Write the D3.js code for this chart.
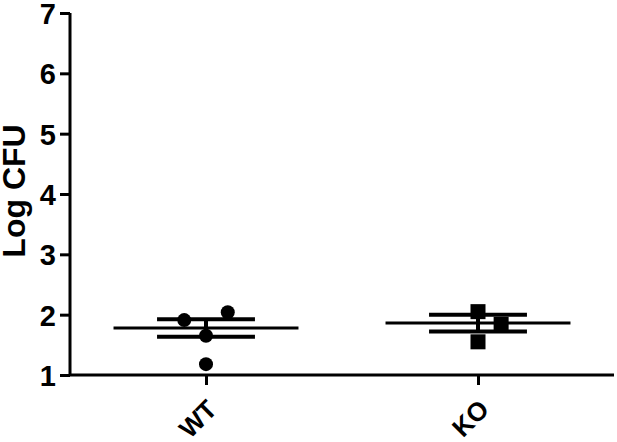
<!DOCTYPE html>
<html>
<head>
<meta charset="utf-8">
<script src="https://cdn.jsdelivr.net/npm/d3@7"></script>
<style>
  body { margin: 0; background: #fff; }
  svg text { font-family: "Liberation Sans", Arial, sans-serif; font-weight: bold; fill: #000; }
</style>
</head>
<body>
<svg width="617" height="442"></svg>
<script>
// groups and values
var groups = ["WT", "KO"];
var wtValues = [1.91, 2.04, 1.65, 1.18];
var wtJitter = [-0.08, 0.08, 0, 0];
var koValues = [2.05, 1.84, 1.55];
var koJitter = [0, 0.085, 0];
var means = [1.78, 1.86];
var sems = [0.145, 0.14];
var yTicks = [1, 2, 3, 4, 5, 6, 7];

var svg = d3.select("svg");

var xScale = d3.scaleLinear().domain([-0.5, 1.5]).range([70, 614]);
var yScale = d3.scaleLinear().domain([1, 7]).range([375, 13]);

// y axis
var yAxis = d3.axisLeft(yScale).tickValues(yTicks).tickFormat(d3.format("d")).tickSize(10).tickPadding(4);
var gy = svg.append("g").attr("transform", "translate(70,0)").call(yAxis);
gy.select(".domain").attr("stroke-width", 3).attr("d", "M0," + yScale(7) + "V" + yScale(1));
gy.selectAll(".tick line").attr("stroke-width", 3);
gy.selectAll(".tick text").style("font-size", "29px").attr("dy", "0.36em");

// x axis
var xAxis = d3.axisBottom(xScale).tickValues([0, 1]).tickFormat(function(d) { return groups[d]; }).tickSize(10);
var gx = svg.append("g").attr("transform", "translate(0,375)").call(xAxis);
gx.select(".domain").attr("stroke-width", 3).attr("d", "M" + xScale(-0.5) + ",0H" + xScale(1.5));
gx.selectAll(".tick line").attr("stroke-width", 3);
gx.selectAll(".tick text")
  .style("font-size", "26px")
  .attr("text-anchor", "end")
  .attr("dy", null)
  .attr("y", 0)
  .attr("transform", "translate(12,36) rotate(-45)");

// y label
svg.append("text")
  .attr("transform", "translate(25," + (yScale(4) - 3) + ") rotate(-90)")
  .attr("text-anchor", "middle")
  .style("font-size", "32px")
  .text("Log CFU");

var plot = svg.append("g");

// mean and SEM lines
groups.forEach(function(g, i) {
  var cx = xScale(i);
  plot.append("line")
    .attr("x1", xScale(i - 0.34)).attr("x2", xScale(i + 0.34))
    .attr("y1", yScale(means[i])).attr("y2", yScale(means[i]))
    .attr("stroke", "#000").attr("stroke-width", 3);
  [means[i] + sems[i], means[i] - sems[i]].forEach(function(v) {
    plot.append("line")
      .attr("x1", xScale(i - 0.18)).attr("x2", xScale(i + 0.18))
      .attr("y1", yScale(v)).attr("y2", yScale(v))
      .attr("stroke", "#000").attr("stroke-width", 4);
  });
  plot.append("line")
    .attr("x1", cx).attr("x2", cx)
    .attr("y1", yScale(means[i] + sems[i])).attr("y2", yScale(means[i] - sems[i]))
    .attr("stroke", "#000").attr("stroke-width", 4);
});

// WT circles
plot.selectAll("circle")
  .data(wtValues)
  .enter()
  .append("circle")
  .attr("cx", function(d, i) { return xScale(0 + wtJitter[i]); })
  .attr("cy", function(d) { return yScale(d); })
  .attr("r", 7)
  .attr("fill", "#000");

// KO squares
plot.selectAll("rect.ko")
  .data(koValues)
  .enter()
  .append("rect")
  .attr("class", "ko")
  .attr("x", function(d, i) { return xScale(1 + koJitter[i]) - 7.5; })
  .attr("y", function(d) { return yScale(d) - 7.5; })
  .attr("width", 15)
  .attr("height", 15)
  .attr("fill", "#000");
</script>
</body>
</html>
